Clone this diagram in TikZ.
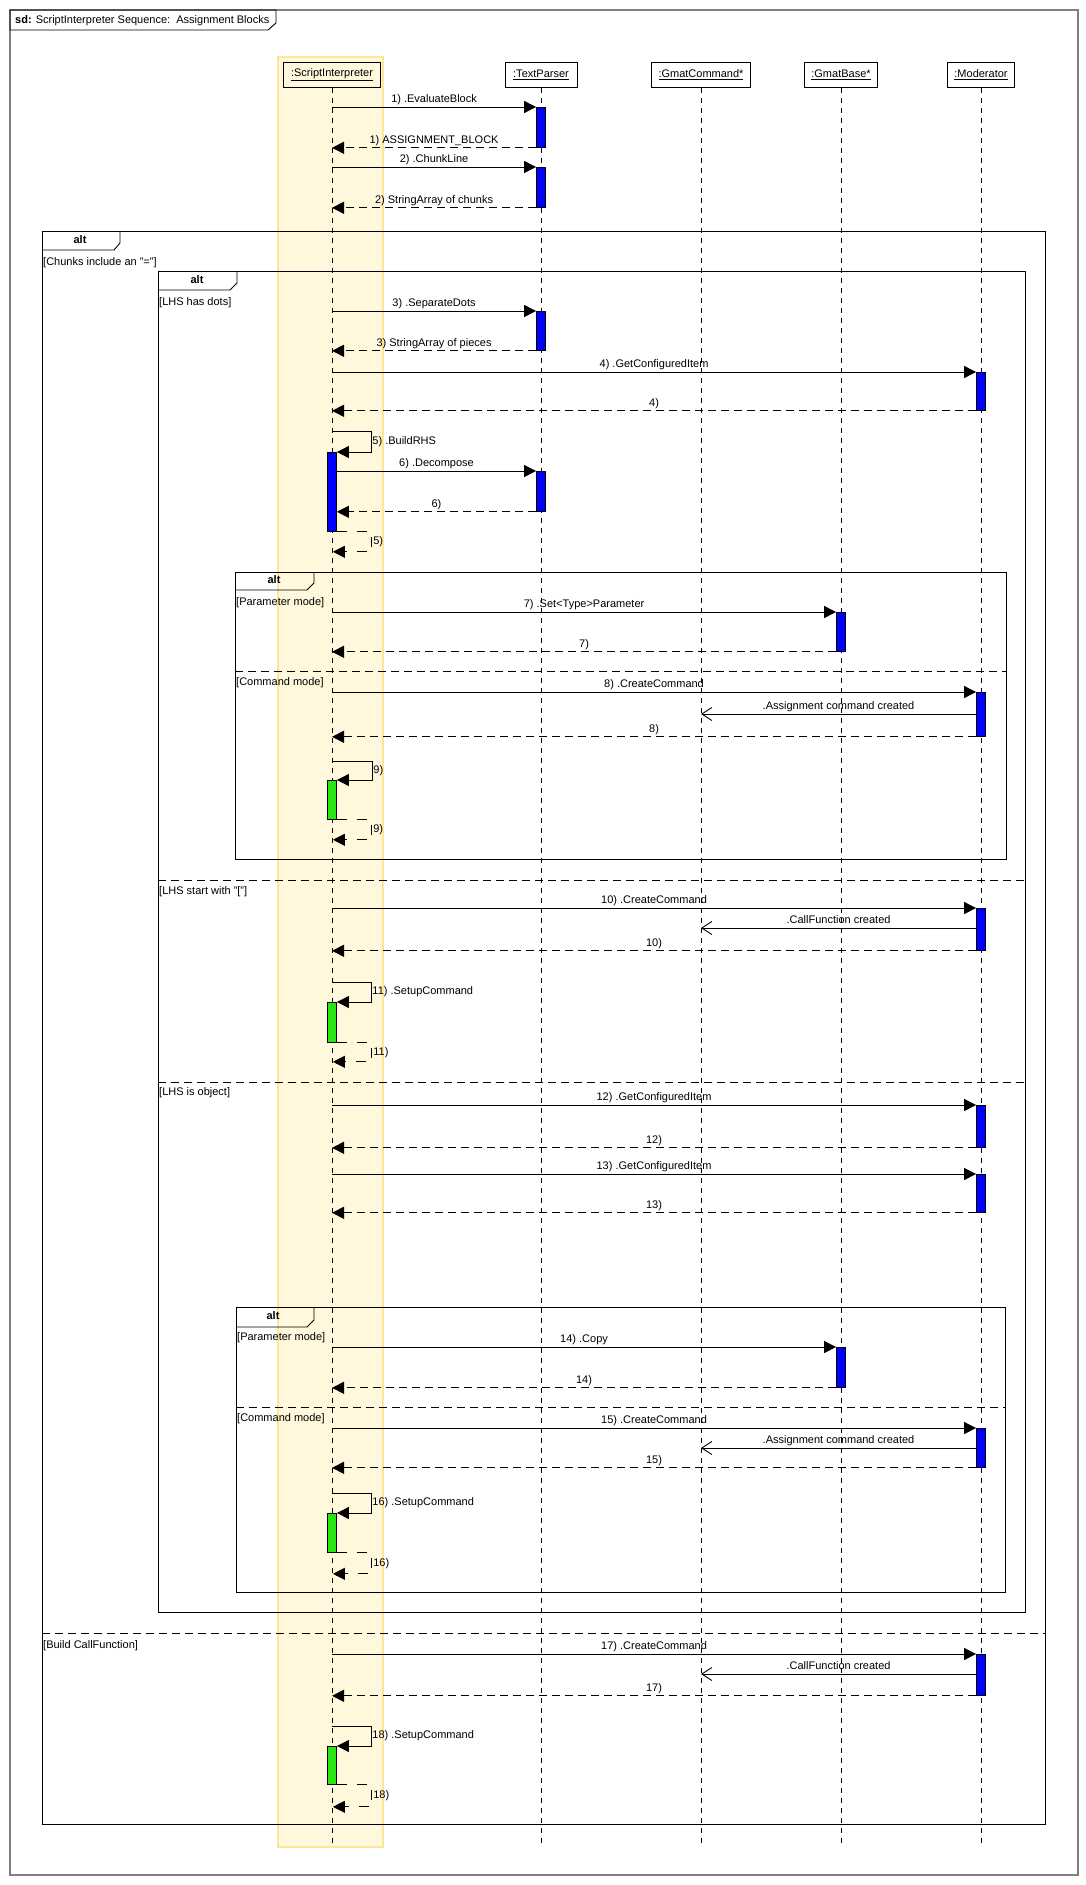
\documentclass[tikz,border=0pt]{standalone}
\usepackage{fontspec}
\setmainfont{Liberation Sans}
\usetikzlibrary{arrows.meta,calc}
\definecolor{hlfill}{RGB}{255,248,220}
\definecolor{hldraw}{RGB}{255,230,150}
\definecolor{actblue}{RGB}{0,0,255}
\definecolor{actgreen}{RGB}{40,230,20}
\definecolor{framegray}{RGB}{128,128,128}
\begin{document}
\begin{tikzpicture}[x=1pt,y=-1pt,
  every node/.style={font=\fontsize{11}{13}\selectfont},
  lbl/.style={inner sep=0pt, text height=8pt, text depth=2.5pt},
  head/.style={draw, line width=0.9pt, minimum height=25pt, inner sep=0pt, anchor=north},
  act/.style={draw, fill=actblue, line width=0.8pt, minimum width=9pt, inner sep=0pt, anchor=north},
  gact/.style={act, fill=actgreen},
  life/.style={line width=0.8pt, dash pattern=on 5pt off 5pt},
  call/.style={line width=0.9pt, -{Triangle[length=12pt,width=12pt]}},
  ret/.style={line width=0.9pt, dash pattern=on 8pt off 5pt, -{Triangle[length=12pt,width=12pt]}},
  selfret/.style={ret, dash pattern=on 10pt off 10pt},
  async/.style={line width=0.9pt, -{Straight Barb[length=10pt,width=13pt]}},
  fragment/.style={line width=0.9pt},
  sep/.style={line width=0.9pt, dash pattern=on 8pt off 5pt},
  tab/.style={inner sep=0pt, font=\fontsize{11}{13}\selectfont\bfseries},
  guard/.style={lbl, anchor=west},
]
\useasboundingbox (0,0) rectangle (1086,1885);
% outer diagram frame
\draw[framegray, line width=1.5pt] (10,10) rectangle (1078,1875);
\draw[line width=0.9pt] (10,10) -- (276,10) -- (276,23) -- (268,30) -- (10,30) -- cycle;
\node[anchor=west, inner sep=0pt] (title) at (15,20.5) {\textbf{sd:} ScriptInterpreter Sequence:\ \ Assignment Blocks};
% highlight of the ScriptInterpreter lifeline
\draw[fill=hlfill, draw=hldraw, line width=1.5pt] (278,57) rectangle (383,1847);
% outer alt
\draw[fragment] (42,231) rectangle (1045,1824);
\draw[fragment] (42,250) -- (114,250) -- (120,243) -- (120,231);
\node[tab] (alt1) at (80,240) {alt};
\draw[sep] (42,1633) -- (1045,1633);
% inner alt
\draw[fragment] (158,271) rectangle (1025,1612);
\draw[fragment] (158,290) -- (230,290) -- (237,283) -- (237,271);
\node[tab] (alt2) at (197,280) {alt};
\draw[sep] (158,880) -- (1025,880);
\draw[sep] (158,1082) -- (1025,1082);
% alt 3
\draw[fragment] (235,572) rectangle (1006,859);
\draw[fragment] (235,590) -- (307,590) -- (314,583) -- (314,572);
\node[tab] (alt3) at (274,580) {alt};
\draw[sep] (235,671) -- (1006,671);
% alt 4
\draw[fragment] (236,1307) rectangle (1005,1592);
\draw[fragment] (236,1327) -- (307,1327) -- (314,1320) -- (314,1307);
\node[tab] (alt4) at (273,1316) {alt};
\draw[sep] (236,1407) -- (1005,1407);
% guards
\node[guard] (g1) at (43,263) {[Chunks include an "="]};
\node[guard] (g2) at (159,303) {[LHS has dots]};
\node[guard] (g3) at (236,603) {[Parameter mode]};
\node[guard] (g4) at (236,683) {[Command mode]};
\node[guard] (g5) at (159,892) {[LHS start with "["]};
\node[guard] (g6) at (159,1093) {[LHS is object]};
\node[guard] (g7) at (237,1338) {[Parameter mode]};
\node[guard] (g8) at (237,1419) {[Command mode]};
\node[guard] (g9) at (43,1646) {[Build CallFunction]};
% lifeline heads
\node[head, minimum width=97pt] (si) at (332,62) {\underline{:ScriptInterpreter}};
\node[head, minimum width=72pt] (tp) at (541,62) {\underline{:TextParser}};
\node[head, minimum width=99pt] (gc) at (701,62) {\underline{:GmatCommand*}};
\node[head, minimum width=73pt] (gb) at (841,62) {\underline{:GmatBase*}};
\node[head, minimum width=67pt] (md) at (981,62) {\underline{:Moderator}};
\coordinate (bottom) at (0,1845);
\foreach \h in {si,tp,gc,gb,md}{\draw[life] (\h.south) -- (\h |- bottom);}
% activations
\node[act, minimum height=40pt] (a1) at (541,107) {};
\node[act, minimum height=40pt] (a2) at (541,167) {};
\node[act, minimum height=39pt] (a3) at (541,311) {};
\node[act, minimum height=38pt] (a4) at (981,372) {};
\node[act, minimum height=79pt] (a5) at (332,452) {};
\node[act, minimum height=40pt] (a6) at (541,471) {};
\node[act, minimum height=39pt] (a7) at (841,612) {};
\node[act, minimum height=44pt] (a8) at (981,692) {};
\node[gact, minimum height=39pt] (a9) at (332,780) {};
\node[act, minimum height=42pt] (a10) at (981,908) {};
\node[gact, minimum height=40pt] (a11) at (332,1002) {};
\node[act, minimum height=42pt] (a12) at (981,1105) {};
\node[act, minimum height=38pt] (a13) at (981,1174) {};
\node[act, minimum height=40pt] (a14) at (841,1347) {};
\node[act, minimum height=39pt] (a15) at (981,1428) {};
\node[gact, minimum height=39pt] (a16) at (332,1513) {};
\node[act, minimum height=41pt] (a17) at (981,1654) {};
\node[gact, minimum height=38pt] (a18) at (332,1746) {};
% messages
\draw[call] (si |- a1.north) -- (a1.north west) node[lbl, midway, above=1.5pt] {1) .EvaluateBlock};
\draw[ret] (a1.south west) -- (si |- a1.south) node[lbl, midway, above=1.5pt] {1) ASSIGNMENT\_BLOCK};
\draw[call] (si |- a2.north) -- (a2.north west) node[lbl, midway, above=1.5pt] {2) .ChunkLine};
\draw[ret] (a2.south west) -- (si |- a2.south) node[lbl, midway, above=1.5pt] {2) StringArray of chunks};
\draw[call] (si |- a3.north) -- (a3.north west) node[lbl, midway, above=1.5pt] {3) .SeparateDots};
\draw[ret] (a3.south west) -- (si |- a3.south) node[lbl, midway, above=1.5pt] {3) StringArray of pieces};
\draw[call] (si |- a4.north) -- (a4.north west) node[lbl, midway, above=1.5pt] {4) .GetConfiguredItem};
\draw[ret] (a4.south west) -- (si |- a4.south) node[lbl, midway, above=1.5pt] {4)};
\draw[call] ($(a5.north)+(0,-21)$) -- ++(39,0) -- ++(0,21) node[lbl, midway, right=1pt] {5) .BuildRHS} -- (a5.north east);
\draw[call] (a5.east |- a6.north) -- (a6.north west) node[lbl, midway, above=1.5pt] {6) .Decompose};
\draw[ret] (a6.south west) -- (a5.east |- a6.south) node[lbl, midway, above=1.5pt] {6)};
\draw[selfret] (a5.south east) -- ++(35,0) -- ++(0,20) node[lbl, midway, right=1pt] {5)} -- ++(-39,0);
\draw[call] (si |- a7.north) -- (a7.north west) node[lbl, midway, above=1.5pt] {7) .Set<Type>Parameter};
\draw[ret] (a7.south west) -- (si |- a7.south) node[lbl, midway, above=1.5pt] {7)};
\draw[call] (si |- a8.north) -- (a8.north west) node[lbl, midway, above=1.5pt] {8) .CreateCommand};
\draw[async] ($(a8.north west)+(0,22)$) -- ($(gc |- a8.north)+(0,22)$) node[lbl, midway, above=1.5pt] {.Assignment command created};
\draw[ret] (a8.south west) -- (si |- a8.south) node[lbl, midway, above=1.5pt] {8)};
\draw[call] ($(a9.north)+(0,-19)$) -- ++(40,0) -- ++(0,19) node[lbl, midway, right=1pt] {9)} -- (a9.north east);
\draw[selfret] (a9.south east) -- ++(35,0) -- ++(0,20) node[lbl, midway, right=1pt] {9)} -- ++(-39,0);
\draw[call] (si |- a10.north) -- (a10.north west) node[lbl, midway, above=1.5pt] {10) .CreateCommand};
\draw[async] ($(a10.north west)+(0,20)$) -- ($(gc |- a10.north)+(0,20)$) node[lbl, midway, above=1.5pt] {.CallFunction created};
\draw[ret] (a10.south west) -- (si |- a10.south) node[lbl, midway, above=1.5pt] {10)};
\draw[call] ($(a11.north)+(0,-20)$) -- ++(39,0) -- ++(0,20) node[lbl, midway, right=1pt] {11) .SetupCommand} -- (a11.north east);
\draw[selfret] (a11.south east) -- ++(35,0) -- ++(0,19) node[lbl, midway, right=1pt] {11)} -- ++(-39,0);
\draw[call] (si |- a12.north) -- (a12.north west) node[lbl, midway, above=1.5pt] {12) .GetConfiguredItem};
\draw[ret] (a12.south west) -- (si |- a12.south) node[lbl, midway, above=1.5pt] {12)};
\draw[call] (si |- a13.north) -- (a13.north west) node[lbl, midway, above=1.5pt] {13) .GetConfiguredItem};
\draw[ret] (a13.south west) -- (si |- a13.south) node[lbl, midway, above=1.5pt] {13)};
\draw[call] (si |- a14.north) -- (a14.north west) node[lbl, midway, above=1.5pt] {14) .Copy};
\draw[ret] (a14.south west) -- (si |- a14.south) node[lbl, midway, above=1.5pt] {14)};
\draw[call] (si |- a15.north) -- (a15.north west) node[lbl, midway, above=1.5pt] {15) .CreateCommand};
\draw[async] ($(a15.north west)+(0,20)$) -- ($(gc |- a15.north)+(0,20)$) node[lbl, midway, above=1.5pt] {.Assignment command created};
\draw[ret] (a15.south west) -- (si |- a15.south) node[lbl, midway, above=1.5pt] {15)};
\draw[call] ($(a16.north)+(0,-20)$) -- ++(39,0) -- ++(0,20) node[lbl, midway, right=1pt] {16) .SetupCommand} -- (a16.north east);
\draw[selfret] (a16.south east) -- ++(35,0) -- ++(0,21) node[lbl, midway, right=1pt] {16)} -- ++(-39,0);
\draw[call] (si |- a17.north) -- (a17.north west) node[lbl, midway, above=1.5pt] {17) .CreateCommand};
\draw[async] ($(a17.north west)+(0,20)$) -- ($(gc |- a17.north)+(0,20)$) node[lbl, midway, above=1.5pt] {.CallFunction created};
\draw[ret] (a17.south west) -- (si |- a17.south) node[lbl, midway, above=1.5pt] {17)};
\draw[call] ($(a18.north)+(0,-20)$) -- ++(39,0) -- ++(0,20) node[lbl, midway, right=1pt] {18) .SetupCommand} -- (a18.north east);
\draw[selfret] (a18.south east) -- ++(35,0) -- ++(0,22) node[lbl, midway, right=1pt] {18)} -- ++(-39,0);
\end{tikzpicture}
\end{document}
